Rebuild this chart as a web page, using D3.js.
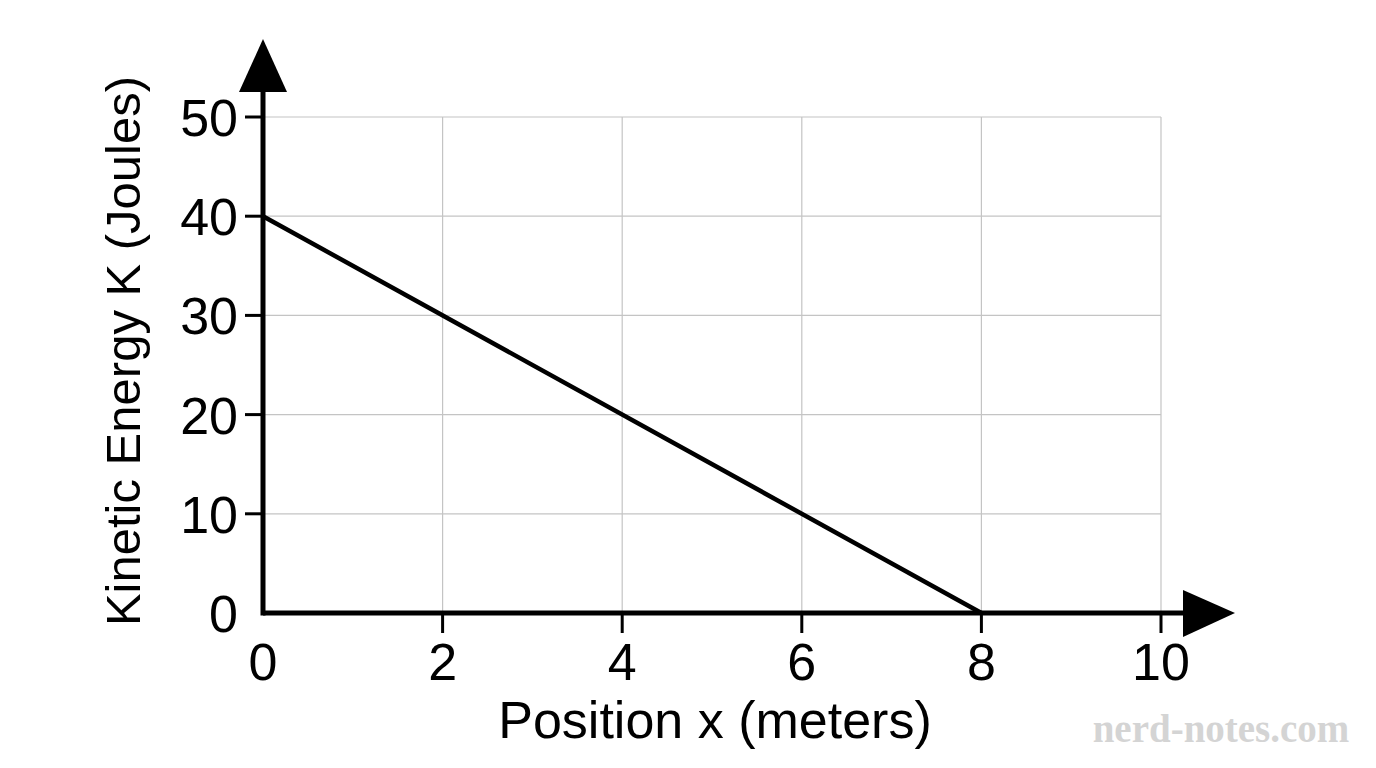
<!DOCTYPE html>
<html><head><meta charset="utf-8">
<script src="https://cdn.jsdelivr.net/npm/d3@7"></script>
<style>body{margin:0;background:#fff}svg{display:block}</style>
</head><body>
<script>
const xTicks = [0, 2, 4, 6, 8, 10];
const yTicks = [0, 10, 20, 30, 40, 50];
const positions = [0, 8];
const energies = [40, 0];
const xTitle = "Position x (meters)";
const yTitle = "Kinetic Energy K (Joules)";
const watermark = "nerd-notes.com";

const W = 1376, H = 768;
const font = "'Liberation Sans', Arial, sans-serif";
const svg = d3.select("body").append("svg").attr("width", W).attr("height", H);
const x = d3.scaleLinear().domain([0, 10]).range([263, 1161]);
const y = d3.scaleLinear().domain([0, 50]).range([613, 117]);

// grid
const g = svg.append("g");
g.selectAll(".vg").data(xTicks.filter(d => d > 0)).enter().append("line")
  .attr("x1", d => x(d)).attr("x2", d => x(d)).attr("y1", y(0)).attr("y2", y(50))
  .attr("stroke", "#c4c4c4").attr("stroke-width", 1.2);
g.selectAll(".hg").data(yTicks.filter(d => d > 0)).enter().append("line")
  .attr("y1", d => y(d)).attr("y2", d => y(d)).attr("x1", x(0)).attr("x2", x(10))
  .attr("stroke", "#c4c4c4").attr("stroke-width", 1.2);

// ticks
svg.selectAll(".xt").data(xTicks.filter(d => d > 0)).enter().append("line")
  .attr("x1", d => x(d)).attr("x2", d => x(d)).attr("y1", y(0)).attr("y2", y(0) + 20)
  .attr("stroke", "#000").attr("stroke-width", 3);
svg.selectAll(".yt").data(yTicks.filter(d => d > 0)).enter().append("line")
  .attr("y1", d => y(d)).attr("y2", d => y(d)).attr("x1", x(0)).attr("x2", x(0) - 18)
  .attr("stroke", "#000").attr("stroke-width", 3);

// axes
svg.append("line").attr("x1", x(0)).attr("x2", 1190).attr("y1", y(0)).attr("y2", y(0))
  .attr("stroke", "#000").attr("stroke-width", 5);
svg.append("line").attr("x1", x(0)).attr("x2", x(0)).attr("y1", y(0) + 2.5).attr("y2", 85)
  .attr("stroke", "#000").attr("stroke-width", 5);
svg.append("path").attr("d", `M${x(0)},39 L239,92 L287,92 Z`).attr("fill", "#000");
svg.append("path").attr("d", `M1235,${y(0)} L1183,590 L1183,637 Z`).attr("fill", "#000");

// data line
const line = d3.line().x(d => x(d[0])).y(d => y(d[1]));
svg.append("path").datum(positions.map((p, i) => [p, energies[i]]))
  .attr("d", line).attr("fill", "none").attr("stroke", "#000").attr("stroke-width", 4.5);

// tick labels
svg.selectAll(".xl").data(xTicks).enter().append("text")
  .attr("x", d => x(d)).attr("y", 680).attr("text-anchor", "middle")
  .attr("font-family", font).attr("font-size", 52).text(d => d);
svg.selectAll(".yl").data(yTicks).enter().append("text")
  .attr("x", 238).attr("y", d => y(d) + 19).attr("text-anchor", "end")
  .attr("font-family", font).attr("font-size", 52).text(d => d);

// titles
svg.append("text").attr("x", 715).attr("y", 738).attr("text-anchor", "middle")
  .attr("font-family", font).attr("font-size", 52).text(xTitle);
svg.append("text").attr("transform", "translate(140,351) rotate(-90)").attr("text-anchor", "middle")
  .attr("font-family", font).attr("font-size", 49).text(yTitle);

// watermark
svg.append("text").attr("x", 1221).attr("y", 742).attr("text-anchor", "middle")
  .attr("font-family", "'Liberation Serif', serif").attr("font-weight", "bold")
  .attr("font-size", 39).attr("fill", "#d4d4d4").text(watermark);
</script>
</body></html>
